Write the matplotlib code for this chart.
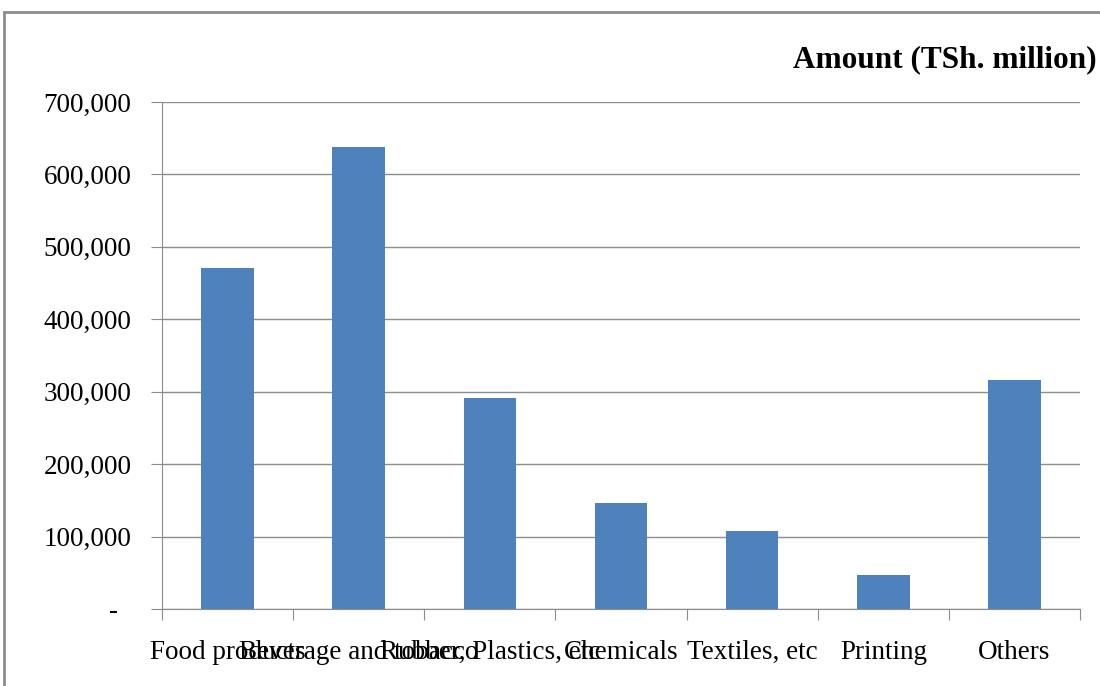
import matplotlib.pyplot as plt
from matplotlib.patches import Rectangle
from matplotlib.ticker import FuncFormatter

categories = ["Food products", "Beverage and tobacco", "Rubber, Plastics, etc",
              "Chemicals", "Textiles, etc", "Printing", "Others"]
amounts = [471000, 638000, 291500, 146500, 108000, 47000, 316500]
y_ticks = [0, 100000, 200000, 300000, 400000, 500000, 600000, 700000]

plt.rcParams["font.family"] = ["Liberation Serif", "DejaVu Serif"]

fig = plt.figure(figsize=(11, 6.86), dpi=100)
W, H = 1100, 686
ax = fig.add_axes([162 / W, 1 - 609 / H, (1080 - 162) / W, (609 - 102) / H])

x = range(len(categories))
ax.bar(x, amounts, width=0.4, color="#4F81BD", zorder=3)

ax.set_xlim(-0.5, len(categories) - 0.5)
ax.set_ylim(0, 700000)
ax.set_yticks(y_ticks)
# zero shown as a dash, accounting style
ax.yaxis.set_major_formatter(
    FuncFormatter(lambda v, p: "-  " if v == 0 else f"{int(v):,}"))
ax.grid(axis="y", color="#8c8c8c", linewidth=1, zorder=0)

# category labels centred, tick marks between categories
ax.set_xticks([i - 0.5 for i in range(len(categories) + 1)])
ax.set_xticklabels([])
ax.set_xticks(list(x), minor=True)
ax.set_xticklabels(categories, minor=True, fontsize=19.5)
ax.tick_params(axis="x", which="minor", length=0, pad=22)
ax.tick_params(axis="x", which="major", length=8, color="#8c8c8c")
ax.tick_params(axis="y", length=8, color="#8c8c8c", labelsize=19.5, pad=14)

for side in ["top", "right"]:
    ax.spines[side].set_visible(False)
for side in ["left", "bottom"]:
    ax.spines[side].set_color("#8c8c8c")

fig.text(793 / W, 1 - 60 / H, "Amount (TSh. million)", fontsize=22.5,
         fontweight="bold", ha="left", va="center")

# outer chart border
fig.patches.append(Rectangle((4 / W, -0.1), 1.2, 1 - 12 / H + 0.1,
                             transform=fig.transFigure, fill=False,
                             edgecolor="#8c8c8c", linewidth=2))

fig.savefig("out.png", dpi=100)
